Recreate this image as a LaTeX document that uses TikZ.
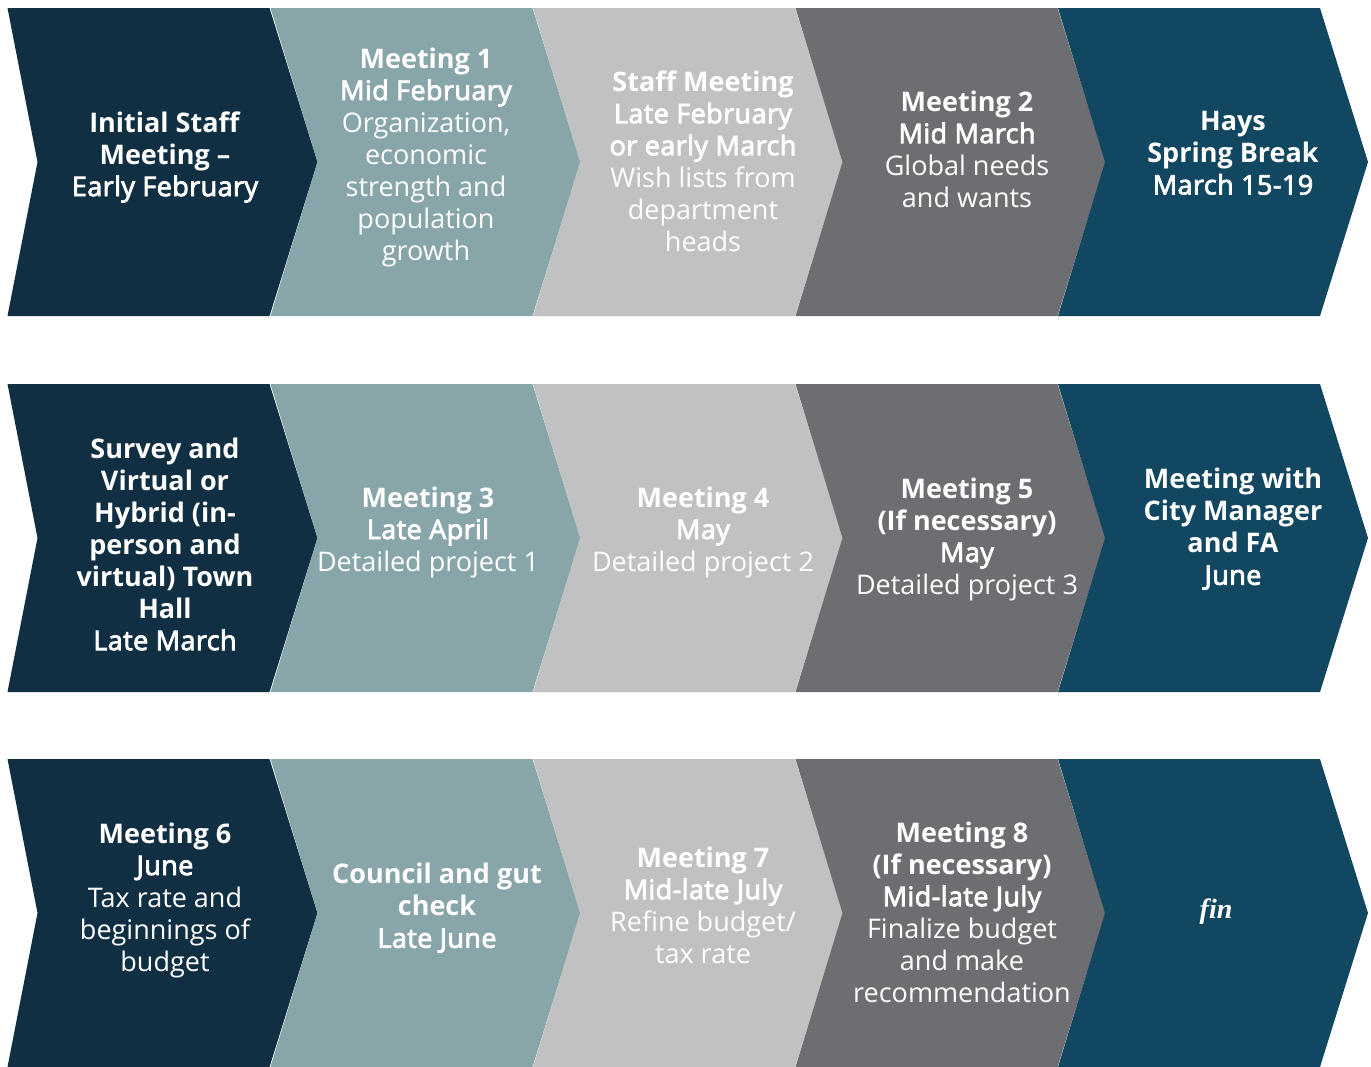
\documentclass[tikz,border=0pt]{standalone}
\usepackage{fontspec}
\setmainfont{Open Sans}
\newfontfamily\semib{Open Sans}[FakeBold=3,LetterSpace=1.5]
\newfontfamily\finfont{Liberation Serif}
\usepackage{xcolor}
\definecolor{navy}{HTML}{112F42}
\definecolor{sage}{HTML}{88A5A9}
\definecolor{silver}{HTML}{C1C1C1}
\definecolor{slate}{HTML}{6D6E71}
\definecolor{petrol}{HTML}{114760}
\tikzset{stagetext/.style={text=white, align=center, inner sep=0pt,
    font=\fontsize{13.5}{16}\selectfont}}
% one chevron: left x, top y, notch depth, colour
\newcommand\chevron[4]{%
  \fill[#4] (#1,#2) -- ++(262,0) -- ++(48,154) -- ++(-48,154) -- ++(-262,0)
    -- ++(#3,-154) -- cycle;}
\begin{document}
\begin{tikzpicture}[x=0.5pt,y=-0.5pt]
  \useasboundingbox (0,0) rectangle (1371,1066);
  \foreach \ytop in {8,384,759}{
    \chevron{7.5}{\ytop}{30}{navy}
    \chevron{270.5}{\ytop}{47}{sage}
    \chevron{533}{\ytop}{47}{silver}
    \chevron{795.5}{\ytop}{47}{slate}
    \chevron{1058}{\ytop}{47}{petrol}
  }
  % first row
  \node[stagetext] (initial) at (165,157) {\textbf{Initial Staff}\\\textbf{Meeting --}\\{\semib Early February}};
  \node[stagetext] (meetone) at (426,157) {\textbf{Meeting 1}\\{\semib Mid February}\\Organization,\\economic\\strength and\\population\\growth};
  \node[stagetext] (staff) at (703,161) {\textbf{Staff Meeting}\\{\semib Late February}\\{\semib or early March}\\Wish lists from\\department\\heads};
  \node[stagetext] (meettwo) at (967,149) {\textbf{Meeting 2}\\{\semib Mid March}\\Global needs\\and wants};
  \node[stagetext] (hays) at (1233,153) {\textbf{Hays}\\\textbf{Spring Break}\\{\semib March 15-19}};
  % second row
  \node[stagetext] (townhall) at (165,544) {\textbf{Survey and}\\\textbf{Virtual or}\\\textbf{Hybrid (in-}\\\textbf{person and}\\\textbf{virtual) Town}\\\textbf{Hall}\\{\semib Late March}};
  \node[stagetext] (meetthree) at (428,532) {\textbf{Meeting 3}\\{\semib Late April}\\Detailed project 1};
  \node[stagetext] (meetfour) at (703,532) {\textbf{Meeting 4}\\{\semib May}\\Detailed project 2};
  \node[stagetext] (meetfive) at (967,539) {\textbf{Meeting 5}\\\textbf{(If necessary)}\\{\semib May}\\Detailed project 3};
  \node[stagetext] (manager) at (1233,529) {\textbf{Meeting with}\\\textbf{City Manager}\\\textbf{and FA}\\{\semib June}};
  % third row
  \node[stagetext] (meetsix) at (165,900) {\textbf{Meeting 6}\\{\semib June}\\Tax rate and\\beginnings of\\budget};
  \node[stagetext] (council) at (437,908) {\textbf{Council and gut}\\\textbf{check}\\{\semib Late June}};
  \node[stagetext] (meetseven) at (703,905) {\textbf{Meeting 7}\\{\semib Mid-late July}\\Refine budget/\\tax rate};
  \node[stagetext] (meeteight) at (962,912) {\textbf{Meeting 8}\\\textbf{(If necessary)}\\{\semib Mid-late July}\\Finalize budget\\and make\\recommendation};
  \node[stagetext, font=\finfont\itshape\bfseries\fontsize{14}{16}\selectfont] (fin) at (1216,912) {fin};
\end{tikzpicture}
\end{document}
